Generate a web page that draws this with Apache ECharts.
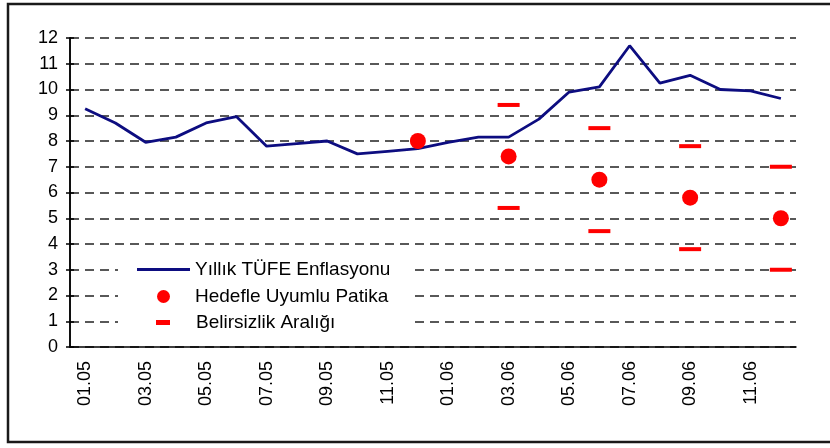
<!DOCTYPE html>
<html>
<head>
<meta charset="utf-8">
<script src="https://cdn.jsdelivr.net/npm/echarts@6/dist/echarts.min.js"></script>
<style>
  html, body { margin: 0; padding: 0; background: #fff; }
  #main { width: 830px; height: 448px; }
</style>
</head>
<body>
<div id="main"></div>
<script>
// months on the x axis
var months = ['01.05','02.05','03.05','04.05','05.05','06.05','07.05','08.05','09.05','10.05','11.05','12.05',
              '01.06','02.06','03.06','04.06','05.06','06.06','07.06','08.06','09.06','10.06','11.06','12.06'];
// annual CPI inflation
var cpi = [9.25, 8.7, 7.95, 8.15, 8.7, 8.95, 7.8, 7.9, 8.0, 7.5, 7.6, 7.7,
           7.95, 8.15, 8.15, 8.85, 9.9, 10.1, 11.7, 10.25, 10.55, 10.0, 9.95, 9.65];
// target consistent path and uncertainty band
var pathMonths = ['12.05', '03.06', '06.06', '09.06', '12.06'];
var pathValues = [8.0, 7.4, 6.5, 5.8, 5.0];
var bandMonths = ['03.06', '06.06', '09.06', '12.06'];
var bandUpper = [9.4, 8.5, 7.8, 7.0];
var bandLower = [5.4, 4.5, 3.8, 3.0];

var names = ['Yıllık TÜFE Enflasyonu', 'Hedefle Uyumlu Patika', 'Belirsizlik Aralığı'];

var pathData = pathMonths.map(function (m, i) { return [m, pathValues[i]]; });
var bandData = [];
bandMonths.forEach(function (m, i) {
  bandData.push([m, bandUpper[i]]);
  bandData.push([m, bandLower[i]]);
});

var font = 'Liberation Sans, Arial, sans-serif';

var chart = echarts.init(document.getElementById('main'));
var option = {
  backgroundColor: '#fff',
  animation: false,
  grid: { left: 70, right: 34, top: 38, bottom: 101 },
  graphic: [
    { type: 'rect', z: 3, silent: true,
      shape: { x: 118, y: 257, width: 292, height: 76 },
      style: { fill: '#fff' } },
    { type: 'rect', z: 10, silent: true,
      shape: { x: 8, y: 4, width: 840, height: 438 },
      style: { fill: 'none', stroke: '#1a1a1a', lineWidth: 2.5 } }
  ],
  legend: [
    { data: [names[0]], left: 137, top: 260, padding: 0,
      itemWidth: 53, itemHeight: 3, icon: 'rect',
      itemStyle: { color: '#0d0d80' },
      textStyle: { color: '#000', fontSize: 19, fontFamily: font } },
    { data: [names[1]], left: 157, top: 287, padding: 0,
      itemWidth: 13, itemHeight: 13, icon: 'circle',
      itemStyle: { color: '#ff0000', opacity: 1 },
      textStyle: { color: '#000', fontSize: 19, fontFamily: font, padding: [0, 0, 0, 20] } },
    { data: [names[2]], left: 156, top: 313, padding: 0,
      itemWidth: 14, itemHeight: 5, icon: 'rect',
      itemStyle: { color: '#ff0000', opacity: 1 },
      textStyle: { color: '#000', fontSize: 19, fontFamily: font, padding: [0, 0, 0, 21] } }
  ],
  xAxis: {
    type: 'category',
    data: months,
    boundaryGap: true,
    axisLine: { lineStyle: { color: '#000', width: 1.5 } },
    axisTick: { interval: 1, length: 5, lineStyle: { color: '#000', width: 1.5 } },
    axisLabel: { interval: 1, rotate: 90, margin: 14, color: '#000', fontSize: 18, fontFamily: font },
    splitLine: { show: false }
  },
  yAxis: [
    {
      type: 'value', min: 0, max: 12, interval: 1,
      axisLine: { show: true, lineStyle: { color: '#000', width: 1.5 } },
      axisTick: { show: true, length: 4, lineStyle: { color: '#000', width: 1.5 } },
      axisLabel: { margin: 12, color: '#000', fontSize: 18, fontFamily: font },
      splitLine: { show: true, lineStyle: { color: '#222', width: 1.5, type: [9, 6] } }
    },
    {
      type: 'value', min: 0, max: 12, interval: 1, position: 'left',
      axisLine: { show: true, lineStyle: { color: '#000', width: 1.5 } },
      axisTick: { show: true, inside: true, length: 4, lineStyle: { color: '#000', width: 1.5 } },
      axisLabel: { show: false },
      splitLine: { show: false }
    }
  ],
  series: [
    {
      name: names[0], type: 'line', data: cpi,
      symbol: 'none', color: '#0d0d80',
      lineStyle: { color: '#0d0d80', width: 2.8 }, z: 2
    },
    {
      name: names[1], type: 'scatter', data: pathData,
      symbol: 'circle', symbolSize: 16, color: '#ff0000',
      itemStyle: { color: '#ff0000', opacity: 1 }, z: 4
    },
    {
      name: names[2], type: 'scatter', data: bandData,
      symbol: 'rect', symbolSize: [22, 4], color: '#ff0000',
      itemStyle: { color: '#ff0000', opacity: 1 }, z: 4
    }
  ]
};
chart.setOption(option);
</script>
</body>
</html>
